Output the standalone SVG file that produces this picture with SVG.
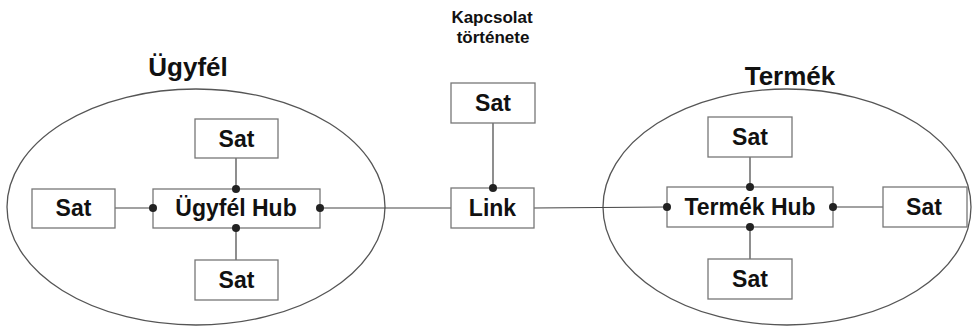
<svg xmlns="http://www.w3.org/2000/svg" width="973" height="327" viewBox="0 0 973 327">
  <style>
    .area { fill: none; stroke: #555; stroke-width: 1.3; }
    .box { fill: #fff; stroke: #777; stroke-width: 1.3; }
    .edge { stroke: #444; stroke-width: 1.2; fill: none; }
    .dot { fill: #222; }
    .lbl { font-family: "Liberation Sans", Arial, sans-serif; font-weight: bold; font-size: 23px; fill: #111; text-anchor: middle; }
    .title { font-family: "Liberation Sans", Arial, sans-serif; font-weight: bold; font-size: 26px; fill: #111; text-anchor: middle; }
    .note { font-family: "Liberation Sans", Arial, sans-serif; font-weight: bold; font-size: 17px; fill: #111; text-anchor: middle; }
  </style>
  <rect width="973" height="327" fill="#fff"/>

  <!-- entity areas -->
  <g id="area-ugyfel">
    <ellipse class="area" cx="196" cy="207" rx="189" ry="118"/>
    <text class="title" x="188" y="76">Ügyfél</text>
  </g>
  <g id="area-termek">
    <ellipse class="area" cx="787" cy="207" rx="184" ry="118"/>
    <text class="title" x="790" y="85">Termék</text>
  </g>
  <g id="label-kapcsolat">
    <text class="note" x="492" y="23">Kapcsolat</text>
    <text class="note" x="493" y="43">története</text>
  </g>

  <!-- connectors -->
  <g id="connectors">
    <line class="edge" x1="115" y1="208" x2="153" y2="208"/>
    <line class="edge" x1="236" y1="158" x2="236" y2="189"/>
    <line class="edge" x1="236" y1="228" x2="236" y2="260"/>
    <line class="edge" x1="320" y1="208" x2="451" y2="208"/>
    <line class="edge" x1="493" y1="123" x2="493" y2="188"/>
    <line class="edge" x1="534" y1="208" x2="667" y2="207"/>
    <line class="edge" x1="750" y1="157" x2="750" y2="187"/>
    <line class="edge" x1="750" y1="227" x2="750" y2="259"/>
    <line class="edge" x1="833" y1="207" x2="883" y2="207"/>
  </g>

  <!-- Ügyfél cluster -->
  <g id="ugyfel-hub">
    <rect class="box" x="153" y="189" width="167" height="39"/>
    <text class="lbl" x="236" y="216">Ügyfél Hub</text>
  </g>
  <g id="ugyfel-sat-top">
    <rect class="box" x="195" y="119" width="83" height="39"/>
    <text class="lbl" x="236.5" y="147">Sat</text>
  </g>
  <g id="ugyfel-sat-left">
    <rect class="box" x="32" y="189" width="83" height="39"/>
    <text class="lbl" x="73.5" y="216">Sat</text>
  </g>
  <g id="ugyfel-sat-bottom">
    <rect class="box" x="195" y="260" width="83" height="40"/>
    <text class="lbl" x="236.5" y="288">Sat</text>
  </g>

  <!-- Link -->
  <g id="link">
    <rect class="box" x="451" y="188" width="83" height="40"/>
    <text class="lbl" x="492.5" y="216">Link</text>
  </g>
  <g id="link-sat">
    <rect class="box" x="451" y="83" width="84" height="40"/>
    <text class="lbl" x="493" y="111">Sat</text>
  </g>

  <!-- Termék cluster -->
  <g id="termek-hub">
    <rect class="box" x="667" y="187" width="166" height="40"/>
    <text class="lbl" x="750" y="215">Termék Hub</text>
  </g>
  <g id="termek-sat-top">
    <rect class="box" x="708" y="117" width="84" height="40"/>
    <text class="lbl" x="750" y="145">Sat</text>
  </g>
  <g id="termek-sat-right">
    <rect class="box" x="883" y="187" width="84" height="40"/>
    <text class="lbl" x="924" y="215">Sat</text>
  </g>
  <g id="termek-sat-bottom">
    <rect class="box" x="708" y="259" width="84" height="40"/>
    <text class="lbl" x="750" y="287">Sat</text>
  </g>

  <!-- attachment points on hubs and link -->
  <g id="ports">
    <circle class="dot" cx="236" cy="189" r="4"/>
    <circle class="dot" cx="153" cy="208" r="4"/>
    <circle class="dot" cx="320" cy="208" r="4"/>
    <circle class="dot" cx="236" cy="228" r="4"/>
    <circle class="dot" cx="493" cy="188" r="4"/>
    <circle class="dot" cx="750" cy="187" r="4"/>
    <circle class="dot" cx="667" cy="207" r="4"/>
    <circle class="dot" cx="833" cy="207" r="4"/>
    <circle class="dot" cx="750" cy="227" r="4"/>
  </g>
</svg>
